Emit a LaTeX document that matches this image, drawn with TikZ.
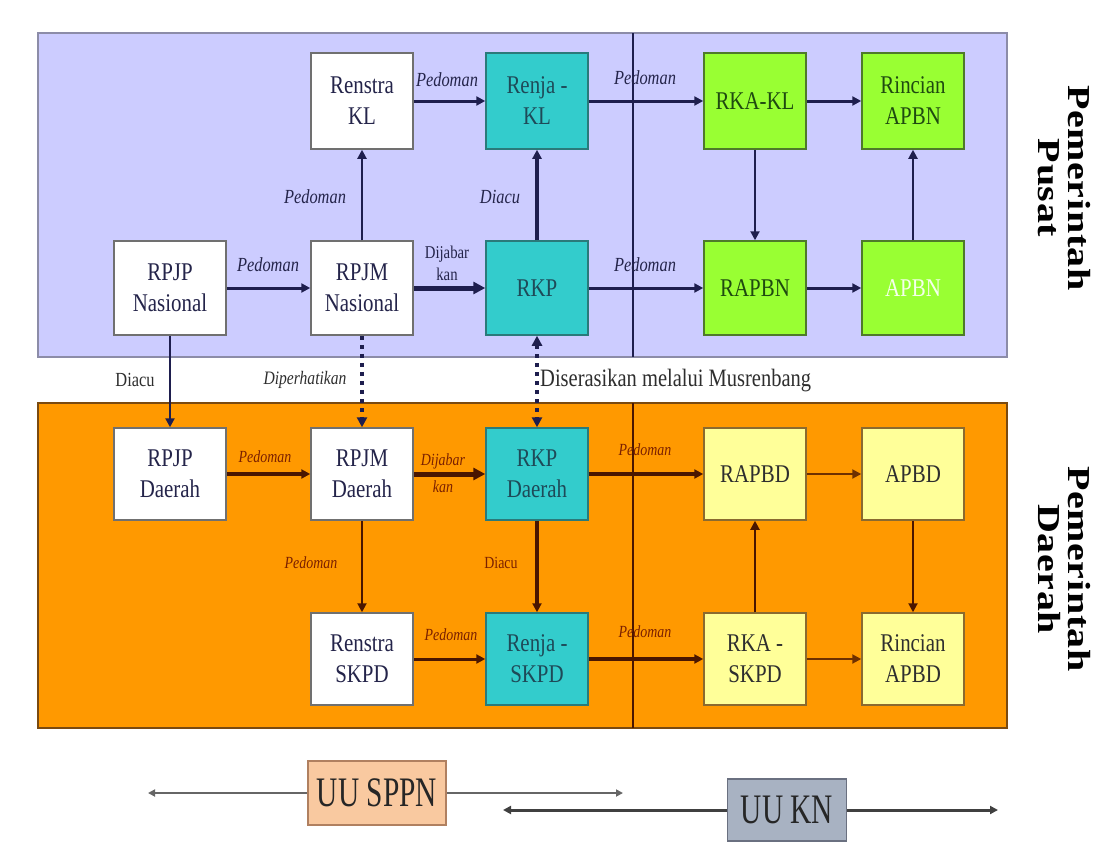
\documentclass[tikz,border=0pt]{standalone}
\usepackage{fontspec}
\setmainfont{Liberation Serif}
\newfontfamily\boxfont[FakeStretch=0.82]{Liberation Serif}
\newfontfamily\uufont[FakeStretch=0.7]{Liberation Serif}
\newfontfamily\sidefont[FakeStretch=1.25,LetterSpace=2]{Liberation Serif}
\usetikzlibrary{arrows.meta}
\definecolor{lav}{HTML}{CCCCFF}
\definecolor{lavframe}{HTML}{8C8CA8}
\definecolor{org}{HTML}{FF9900}
\definecolor{orgframe}{HTML}{7A4A10}
\definecolor{tealfill}{HTML}{33CCCC}
\definecolor{tealdraw}{HTML}{2A7A7A}
\definecolor{tealtext}{HTML}{1E4A58}
\definecolor{limefill}{HTML}{99FF33}
\definecolor{limedraw}{HTML}{4E7A2A}
\definecolor{limetext}{HTML}{1F4A10}
\definecolor{yelfill}{HTML}{FFFF99}
\definecolor{yeldraw}{HTML}{8A6A30}
\definecolor{yeltext}{HTML}{2E2E2E}
\definecolor{wdraw}{HTML}{707070}
\definecolor{navytext}{HTML}{24244A}
\definecolor{navyarrow}{HTML}{1E1E4E}
\definecolor{brownarrow}{HTML}{4A1600}
\definecolor{redlab}{HTML}{7A2000}
\definecolor{midtext}{HTML}{2E2E2E}
\definecolor{sppnfill}{HTML}{F9C9A0}
\definecolor{sppndraw}{HTML}{B08060}
\definecolor{knfill}{HTML}{A8B2C2}
\definecolor{kndraw}{HTML}{6A7080}
\tikzset{
  box/.style={draw, line width=1.5pt, inner sep=0pt, minimum width=102pt, align=center,
    font={\boxfont\fontsize{25.5}{31}\selectfont}},
  wbox/.style={box, fill=white, draw=wdraw, text=navytext},
  tbox/.style={box, fill=tealfill, draw=tealdraw, text=tealtext},
  gbox/.style={box, fill=limefill, draw=limedraw, text=limetext},
  ybox/.style={box, fill=yelfill, draw=yeldraw, text=yeltext},
  rA/.style={minimum height=96pt},
  rB/.style={minimum height=94pt},
  rC/.style={minimum height=92pt},
  ar/.style={line width=#1, -{Triangle[length=9pt,width=9pt]}},
  tar/.style={ar=#1, draw=navyarrow},
  bar/.style={ar=#1, draw=brownarrow},
  tlab/.style={inner sep=0pt, text=navytext, font={\boxfont\itshape\fontsize{20}{22}\selectfont}},
  blab/.style={inner sep=0pt, text=redlab, font={\boxfont\itshape\fontsize{17}{20}\selectfont}},
  mlab/.style={inner sep=0pt, text=midtext, font={\boxfont\fontsize{20}{22}\selectfont}},
  side/.style={rotate=-90, align=center, inner sep=0pt, text=black,
    font={\sidefont\bfseries\fontsize{32}{30}\selectfont}},
  uubox/.style={draw, line width=1.5pt, inner sep=0pt, font={\uufont\fontsize{42}{44}\selectfont}, text=black!85}
}
\begin{document}
\begin{tikzpicture}[x=1pt,y=-1pt]
\useasboundingbox (0,0) rectangle (1095,841);
\fill[white] (0,0) rectangle (1095,841);
% panels
\filldraw[fill=lav, draw=lavframe, line width=2pt] (38,33) rectangle (1007,357);
\filldraw[fill=org, draw=orgframe, line width=1.5pt] (38,403) rectangle (1007,728);
\draw[navyarrow, line width=1.5pt] (633,33) -- (633,357);
\draw[brownarrow, line width=1.5pt] (633,403) -- (633,728);

% top boxes
\node[wbox, rA] (renstrakl) at (362,101) {Renstra\\KL};
\node[tbox, rA] (renjakl) at (537,101) {Renja -\\KL};
\node[gbox, rA] (rkakl) at (755,101) {RKA-KL};
\node[gbox, rA] (rincianapbn) at (913,101) {Rincian\\APBN};
\node[wbox, rB, minimum width=112pt] (rpjpn) at (170,288) {RPJP\\Nasional};
\node[wbox, rB] (rpjmn) at (362,288) {RPJM\\Nasional};
\node[tbox, rB] (rkp) at (537,288) {RKP};
\node[gbox, rB] (rapbn) at (755,288) {RAPBN};
\node[gbox, rB, text=white!90!limefill] (apbn) at (913,288) {APBN};

% bottom boxes
\node[wbox, rC, minimum width=112pt] (rpjpd) at (170,474) {RPJP\\Daerah};
\node[wbox, rC] (rpjmd) at (362,474) {RPJM\\Daerah};
\node[tbox, rC] (rkpd) at (537,474) {RKP\\Daerah};
\node[ybox, rC] (rapbd) at (755,474) {RAPBD};
\node[ybox, rC] (apbd) at (913,474) {APBD};
\node[wbox, rC] (renstraskpd) at (362,659) {Renstra\\SKPD};
\node[tbox, rC] (renjaskpd) at (537,659) {Renja -\\SKPD};
\node[ybox, rC] (rkaskpd) at (755,659) {RKA -\\SKPD};
\node[ybox, rC] (rincianapbd) at (913,659) {Rincian\\APBD};

% top arrows
\draw[tar=3pt] (renstrakl) -- (renjakl);
\draw[tar=3pt] (renjakl) -- (rkakl);
\draw[tar=3pt] (rkakl) -- (rincianapbn);
\draw[tar=2pt] (rpjmn) -- (renstrakl);
\draw[tar=4pt] (rkp) -- (renjakl);
\draw[tar=3pt] (rpjpn) -- (rpjmn);
\draw[tar=5pt, -{Triangle[length=12pt,width=12pt]}] (rpjmn) -- (rkp);
\draw[tar=3pt] (rkp) -- (rapbn);
\draw[tar=3pt] (rapbn) -- (apbn);
\draw[tar=2pt] (rkakl) -- (rapbn);
\draw[tar=2pt] (apbn) -- (rincianapbn);

% middle connectors
\draw[tar=2.5pt] (rpjpn) -- (rpjpd);
\draw[line width=4pt, navyarrow, dash pattern=on 4pt off 5pt, -{Triangle[length=10pt,width=10pt]}] (rpjmn) -- (rpjmd);
\draw[line width=4pt, navyarrow, dash pattern=on 4pt off 5pt, {Triangle[length=10pt,width=10pt]}-{Triangle[length=10pt,width=10pt]}] (rkp) -- (rkpd);

% bottom arrows
\draw[bar=3.5pt] (rpjpd) -- (rpjmd);
\draw[bar=5pt, -{Triangle[length=12pt,width=12pt]}] (rpjmd) -- (rkpd);
\draw[bar=3.5pt] (rkpd) -- (rapbd);
\draw[bar=2pt, draw=brownarrow!80!org] (rapbd) -- (apbd);
\draw[bar=2pt] (rpjmd) -- (renstraskpd);
\draw[bar=4pt] (rkpd) -- (renjaskpd);
\draw[bar=3pt] (renstraskpd) -- (renjaskpd);
\draw[bar=3.5pt] (renjaskpd) -- (rkaskpd);
\draw[bar=2pt, draw=brownarrow!80!org] (rkaskpd) -- (rincianapbd);
\draw[bar=2pt] (rkaskpd) -- (rapbd);
\draw[bar=2pt] (apbd) -- (rincianapbd);

% top labels
\node[tlab] (l1) at (447,80) {Pedoman};
\node[tlab] (l2) at (645,78) {Pedoman};
\node[tlab] (l3) at (315,197) {Pedoman};
\node[tlab] (l4) at (500,197) {Diacu};
\node[tlab] (l5) at (268,265) {Pedoman};
\node[tlab, font={\boxfont\fontsize{18}{22}\selectfont}, align=center] (l6) at (447,263) {Dijabar\\kan};
\node[tlab] (l7) at (645,265) {Pedoman};

% middle labels
\node[mlab] (m1) at (135,380) {Diacu};
\node[mlab, font={\boxfont\itshape\fontsize{19}{22}\selectfont}] (m2) at (305,380) {Diperhatikan};
\node[mlab, anchor=west, font={\boxfont\fontsize{25}{27}\selectfont}] (m3) at (540,381) {Diserasikan melalui Musrenbang};

% bottom labels
\node[blab] (b1) at (265,457) {Pedoman};
\node[blab, align=center, font={\boxfont\itshape\fontsize{17}{27}\selectfont}] (b2) at (443,473) {Dijabar\\kan};
\node[blab] (b3) at (645,450) {Pedoman};
\node[blab] (b4) at (311,563) {Pedoman};
\node[blab, font={\boxfont\fontsize{17}{20}\selectfont}] (b5) at (501,563) {Diacu};
\node[blab] (b6) at (451,635) {Pedoman};
\node[blab] (b7) at (645,632) {Pedoman};

% side labels
\node[side] (pusat) at (1064,188) {Pemerintah\\Pusat};
\node[side] (daerah) at (1064,569) {Pemerintah\\Daerah};

% legislation bars
\node[uubox, fill=sppnfill, draw=sppndraw, minimum width=138pt, minimum height=64pt] (sppn) at (377,793) {UU SPPN};
\node[uubox, fill=knfill, draw=kndraw, minimum width=119pt, minimum height=62pt] (kn) at (787,810) {UU KN};
\coordinate (s1) at (148,793);
\coordinate (s2) at (623,793);
\coordinate (k1) at (503,810);
\coordinate (k2) at (998,810);
\draw[black!60, line width=2pt, -{Triangle[length=7pt,width=7pt]}] (sppn.west) -- (s1);
\draw[black!60, line width=2pt, -{Triangle[length=7pt,width=7pt]}] (sppn.east) -- (s2);
\draw[black!75, line width=3pt, -{Triangle[length=8pt,width=8pt]}] (kn.west) -- (k1);
\draw[black!75, line width=3pt, -{Triangle[length=8pt,width=8pt]}] (kn.east) -- (k2);
\end{tikzpicture}
\end{document}
